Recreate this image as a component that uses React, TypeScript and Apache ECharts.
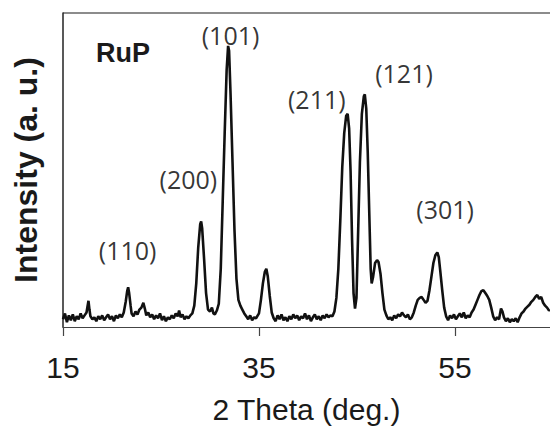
import React, { useEffect, useRef } from "react";
import * as echarts from "echarts";

// 2θ (deg.) and intensity (a. u.)
const twoTheta: number[] = [
  15.0, 15.2, 15.4, 15.6, 15.8, 16.0, 16.2, 16.4, 16.6, 16.8, 17.0, 17.2, 17.4, 17.6, 17.7, 17.8,
  18.0, 18.2, 18.4, 18.6, 18.8, 19.0, 19.2, 19.4, 19.6, 19.8, 20.0, 20.2, 20.4, 20.6, 20.8, 21.0,
  21.2, 21.4, 21.55, 21.65, 21.75, 21.9, 22.0, 22.2, 22.4, 22.6, 22.8, 23.0, 23.2, 23.35, 23.5, 23.7,
  23.9, 24.1, 24.3, 24.5, 24.7, 24.9, 25.1, 25.3, 25.5, 25.7, 25.9, 26.1, 26.3, 26.5, 26.7, 26.85,
  27.0, 27.2, 27.4, 27.6, 27.8, 28.0, 28.2, 28.4, 28.6, 28.8, 29.0, 29.1, 29.2, 29.4, 29.6, 29.8,
  30.0, 30.2, 30.35, 30.5, 30.7, 30.9, 31.1, 31.3, 31.5, 31.7, 31.85, 31.95, 32.1, 32.3, 32.5, 32.7,
  32.9, 33.1, 33.3, 33.5, 33.7, 33.9, 34.1, 34.3, 34.5, 34.7, 35.0, 35.2, 35.4, 35.6, 35.75, 35.9,
  36.1, 36.3, 36.5, 36.7, 36.9, 37.1, 37.3, 37.5, 37.7, 37.9, 38.1, 38.3, 38.5, 38.7, 38.9, 39.1,
  39.3, 39.5, 39.7, 39.9, 40.1, 40.3, 40.5, 40.7, 40.9, 41.1, 41.3, 41.5, 41.7, 41.9, 42.1, 42.3,
  42.5, 42.7, 42.9, 43.1, 43.3, 43.5, 43.7, 43.9, 44.05, 44.2, 44.35, 44.5, 44.65, 44.8, 44.95, 45.1,
  45.3, 45.5, 45.7, 45.8, 45.95, 46.1, 46.25, 46.4, 46.5, 46.65, 46.85, 47.05, 47.2, 47.4, 47.6, 47.8,
  48.0, 48.2, 48.4, 48.6, 48.8, 49.0, 49.2, 49.4, 49.6, 49.8, 50.0, 50.2, 50.4, 50.6, 50.8, 51.0,
  51.2, 51.4, 51.6, 51.8, 52.0, 52.2, 52.4, 52.6, 52.8, 53.0, 53.2, 53.35, 53.5, 53.7, 53.9, 54.1,
  54.3, 54.5, 54.7, 54.9, 55.1, 55.3, 55.5, 55.7, 55.9, 56.1, 56.3, 56.5, 56.7, 56.9, 57.1, 57.3,
  57.5, 57.7, 57.9, 58.1, 58.3, 58.5, 58.7, 58.9, 59.1, 59.3, 59.5, 59.7, 59.85, 60.0, 60.2, 60.4,
  60.6, 60.8, 61.0, 61.2, 61.4, 61.6, 61.8, 62.0, 62.2, 62.4, 62.6, 62.8, 63.0, 63.2, 63.4, 63.6,
  63.8, 64.0, 64.2, 64.4, 64.6, 64.7,
];

const intensity: number[] = [
  8, 14, 5, 12, 7, 13, 6, 11, 8, 14, 9, 12, 15, 27, 18, 11,
  8, 10, 6, 11, 8, 12, 7, 10, 13, 8, 11, 6, 12, 9, 13, 10,
  15, 26, 37, 41, 35, 22, 14, 11, 16, 13, 18, 20, 25, 19, 12, 15,
  10, 13, 8, 12, 9, 14, 7, 11, 6, 10, 8, 12, 9, 14, 11, 17,
  10, 13, 8, 11, 9, 12, 14, 22, 45, 82, 106, 109, 102, 70, 35, 18,
  16, 20, 14, 13, 17, 24, 60, 130, 200, 265, 290, 285, 240, 170, 100, 50,
  28, 22, 18, 14, 11, 8, 12, 7, 10, 9, 14, 28, 45, 57, 60, 52,
  32, 15, 9, 6, 12, 8, 13, 7, 10, 6, 11, 8, 13, 9, 12, 7,
  11, 9, 14, 8, 12, 6, 10, 13, 8, 11, 7, 12, 9, 13, 10, 12,
  11, 16, 30, 60, 110, 165, 200, 218, 220, 205, 160, 90, 35, 19, 30, 90,
  170, 220, 238, 240, 225, 180, 120, 60, 45, 52, 66, 69, 67, 55, 35, 18,
  12, 8, 10, 7, 12, 9, 13, 11, 15, 12, 10, 13, 8, 10, 15, 22,
  28, 30, 31, 28, 25, 27, 38, 52, 66, 74, 77, 72, 58, 38, 20, 11,
  7, 12, 9, 13, 8, 11, 14, 10, 15, 9, 12, 10, 15, 18, 23, 28,
  33, 37, 38, 35, 32, 28, 20, 11, 7, 10, 8, 19, 16, 10, 6, 9,
  5, 8, 6, 9, 5, 10, 14, 16, 19, 21, 23, 26, 28, 31, 33, 29,
  31, 25, 22, 20, 17, 18,
];

// Reflection labels and where they sit (data coordinates)
const peakLabels: string[] = ["(110)", "(200)", "(101)", "(211)", "(121)", "(301)"];
const peakLabelX: number[] = [21.6, 27.8, 32.1, 40.9, 49.8, 54.0];
const peakLabelY: number[] = [79, 153, 301, 235, 262, 122];

const xTicks: number[] = [15, 35, 55];

export default function App() {
  const ref = useRef<HTMLDivElement>(null);
  useEffect(() => {
    if (!ref.current) return;
    const chart = echarts.init(ref.current, undefined, { renderer: "svg" });
    const lineData = twoTheta.map((x, i) => [x, intensity[i]]);
    const labelData = peakLabels.map((t, i) => ({ value: [peakLabelX[i], peakLabelY[i]], name: t }));
    chart.setOption({
      animation: false,
      backgroundColor: "#ffffff",
      grid: { left: 63, top: 13, right: 0, bottom: 92 },
      xAxis: {
        type: "value",
        min: 15,
        max: 64.7,
        interval: 20,
        name: "2 Theta (deg.)",
        nameLocation: "middle",
        nameGap: 67,
        nameTextStyle: { fontFamily: "Liberation Sans", fontSize: 30, color: "#1a1a1a" },
        axisLine: { show: true, onZero: false, lineStyle: { color: "#444", width: 1.2 } },
        axisTick: { show: true, length: 9, lineStyle: { color: "#444", width: 1.2 }, customValues: xTicks },
        axisLabel: {
          customValues: xTicks,
          fontFamily: "Liberation Sans",
          fontSize: 30,
          color: "#1a1a1a",
          margin: 25,
        },
        splitLine: { show: false },
      },
      yAxis: {
        type: "value",
        min: 0,
        max: 324,
        name: "Intensity (a. u.)",
        nameLocation: "middle",
        nameRotate: 90,
        nameGap: 21,
        nameTextStyle: { fontFamily: "Liberation Sans", fontSize: 32, fontWeight: "bold", color: "#1a1a1a" },
        axisLine: { show: true, lineStyle: { color: "#222", width: 1.5 } },
        axisTick: { show: false },
        axisLabel: { show: false },
        splitLine: { show: false },
      },
      graphic: [
        {
          type: "line",
          shape: { x1: 63, y1: 13, x2: 550, y2: 13 },
          style: { stroke: "#666", lineWidth: 1.5 },
        },
        {
          type: "text",
          left: 96,
          top: 39,
          style: {
            text: "RuP",
            fontFamily: "Liberation Sans",
            fontWeight: "bold",
            fontSize: 27,
            fill: "#1a1a1a",
          },
        },
      ],
      series: [
        {
          type: "line",
          data: lineData,
          showSymbol: false,
          symbol: "none",
          lineStyle: { color: "#111", width: 2.6 },
          z: 3,
        },
        {
          type: "scatter",
          data: labelData,
          symbolSize: 0,
          label: {
            show: true,
            position: "inside",
            formatter: (p: any) => p.name,
            fontFamily: "Open Sans",
            fontSize: 25,
            color: "#000",
          },
          z: 4,
        },
      ],
    });
    return () => chart.dispose();
  }, []);
  return (
    <div
      ref={ref}
      style={{ position: "fixed", left: 0, top: 0, width: 550, height: 429, background: "#fff" }}
    />
  );
}
